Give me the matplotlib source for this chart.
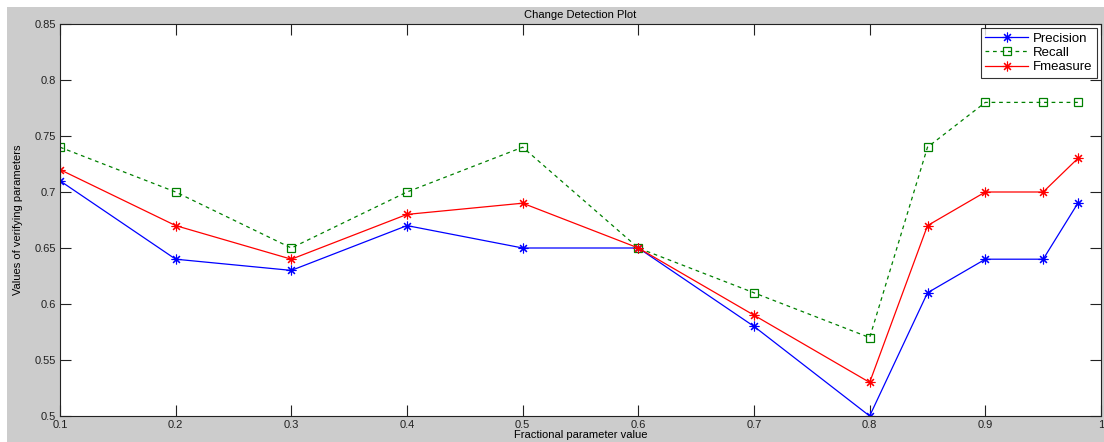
import numpy as np
import matplotlib
matplotlib.use("Agg")
import matplotlib.pyplot as plt
from matplotlib.patches import Rectangle

# values
frac = [0.1, 0.2, 0.3, 0.4, 0.5, 0.6, 0.7, 0.8, 0.85, 0.9, 0.95, 0.98]
precision = [0.71, 0.64, 0.63, 0.67, 0.65, 0.65, 0.58, 0.50, 0.61, 0.64, 0.64, 0.69]
recall = [0.74, 0.70, 0.65, 0.70, 0.74, 0.65, 0.61, 0.57, 0.74, 0.78, 0.78, 0.78]
fmeasure = [0.72, 0.67, 0.64, 0.68, 0.69, 0.65, 0.59, 0.53, 0.67, 0.70, 0.70, 0.73]
xticks = [0.1, 0.2, 0.3, 0.4, 0.5, 0.6, 0.7, 0.8, 0.9, 1.0]
xticklabels = ["0.1", "0.2", "0.3", "0.4", "0.5", "0.6", "0.7", "0.8", "0.9", "1"]
yticks = [0.5, 0.55, 0.6, 0.65, 0.7, 0.75, 0.8, 0.85]
yticklabels = ["0.5", "0.55", "0.6", "0.65", "0.7", "0.75", "0.8", "0.85"]

plt.rcParams['font.family'] = ['Liberation Sans', 'DejaVu Sans']

fig = plt.figure(figsize=(11.04, 4.42), dpi=100, facecolor='white')
# matlab-like grey panel with a thin white margin at top/left
fig.patches.append(Rectangle((7 / 1104, 0), 1, 1 - 7 / 442, transform=fig.transFigure,
                             facecolor='#cccccc', edgecolor='none', zorder=-1))

ax = fig.add_axes([60 / 1104, 26 / 442, 1041 / 1104, 392 / 442])
ax.set_facecolor('white')

star = (8, 2, 0)  # matlab style asterisk
ax.plot(frac, precision, color='blue', lw=0.9, marker=star, ms=7, mew=0.8, label='Precision')
ax.plot(frac, recall, color='#008000', lw=0.9, ls=(0, (3, 3)), marker='s', ms=6,
        mfc='none', mew=0.9, label='Recall')
ax.plot(frac, fmeasure, color='red', lw=0.9, marker=star, ms=7, mew=0.8, label='Fmeasure')

ax.set_xlim(0.1, 1.0)
ax.set_ylim(0.5, 0.85)
ax.set_xticks(xticks)
ax.set_xticklabels(xticklabels)
ax.set_yticks(yticks)
ax.set_yticklabels(yticklabels)
ax.tick_params(direction='in', length=8, width=0.8, top=True, right=True,
               labelsize=8, colors='#222222', pad=3)
for s in ax.spines.values():
    s.set_linewidth(0.8)
    s.set_color('#222222')

ax.set_title('Change Detection Plot', fontsize=8, pad=4)
ax.set_xlabel('Fractional parameter value', fontsize=8, labelpad=0)
ax.set_ylabel('Values of verifying parameters', fontsize=8, labelpad=8)

leg = ax.legend(loc='upper right', fontsize=9.5, frameon=True, fancybox=False,
                borderaxespad=0.3, handlelength=3.2, labelspacing=0.15,
                borderpad=0.35, handletextpad=0.4)
leg.get_frame().set_edgecolor('black')
leg.get_frame().set_linewidth(0.8)

fig.savefig('out.png', dpi=100, facecolor=fig.get_facecolor())
